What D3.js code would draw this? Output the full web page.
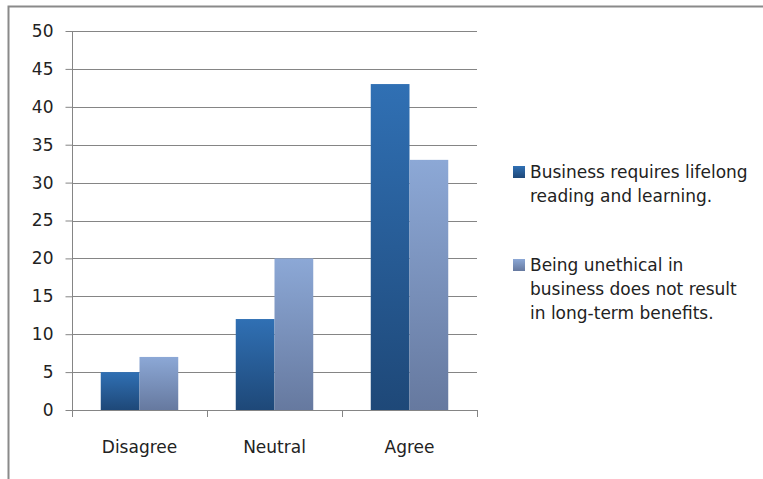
<!DOCTYPE html>
<html><head><meta charset="utf-8">
<script src="https://cdn.jsdelivr.net/npm/d3@7"></script>
<style>body{margin:0;background:#fff}svg{display:block}text{font-family:"DejaVu Sans",sans-serif;fill:#222}</style>
</head><body><svg id="c" width="763" height="479"></svg>
<script>
const categories = ["Disagree", "Neutral", "Agree"];
const seriesNames = ["Business requires lifelong reading and learning.", "Being unethical in business does not result in long-term benefits."];
const seriesA = [5, 12, 43];
const seriesB = [7, 20, 33];
const yTicks = [0, 5, 10, 15, 20, 25, 30, 35, 40, 45, 50];
const legendLines = [["Business requires lifelong", "reading and learning."], ["Being unethical in", "business does not result", "in long-term benefits."]];

const FONT = "'DejaVu Sans',sans-serif";
const svg = d3.select("#c");
const defs = svg.append("defs");
const grads = [["gA", "#3070b4", "#1e4878"], ["gB", "#8ca8d6", "#66799f"]];
grads.forEach(([id, top, bot]) => {
  const g = defs.append("linearGradient").attr("id", id).attr("x1", 0).attr("y1", 0).attr("x2", 0).attr("y2", 1);
  g.append("stop").attr("offset", 0).attr("stop-color", top);
  g.append("stop").attr("offset", 1).attr("stop-color", bot);
});

// frame
svg.append("path").attr("d", "M8.5,479 V6.5 H763").attr("fill", "none").attr("stroke", "#8a8a8a").attr("stroke-width", 2);

const x0 = 72, x1 = 477, yTop = 31, yBot = 410;
const y = d3.scaleLinear().domain([0, 50]).range([yBot, yTop]);
const x = d3.scaleBand().domain(categories).range([x0, x1]).paddingInner(0.426).paddingOuter(0.213);
const xs = d3.scaleBand().domain([0, 1]).range([0, x.bandwidth()]);

// gridlines
svg.append("g").selectAll("line").data(yTicks.filter(d => d > 0)).join("line")
  .attr("x1", x0).attr("x2", x1).attr("y1", d => Math.round(y(d)) + 0.5).attr("y2", d => Math.round(y(d)) + 0.5)
  .attr("stroke", "#858585").attr("stroke-width", 1);

// bars
categories.forEach((c, i) => {
  [seriesA, seriesB].forEach((s, j) => {
    svg.append("rect").attr("x", x(c) + xs(j)).attr("y", y(s[i])).attr("width", xs.bandwidth())
      .attr("height", y(0) - y(s[i])).attr("fill", `url(#${grads[j][0]})`);
  });
});

// y axis
const ya = svg.append("g").attr("transform", `translate(${x0 + 0.5},0)`).call(d3.axisLeft(y).tickValues(yTicks).tickSize(7).tickPadding(12));
ya.select(".domain").attr("stroke", "#858585").attr("d", `M0,${yTop}V${yBot}`);
ya.selectAll(".tick line").attr("stroke", "#858585");
ya.selectAll("text").attr("font-size", 17).style("font-family", FONT).attr("fill", "#222");

// x axis
const xa = svg.append("g").attr("transform", `translate(0,${Math.round(yBot) + 0.5})`)
  .call(d3.axisBottom(x).tickSize(0).tickPadding(30));
xa.select(".domain").attr("stroke", "#858585").attr("d", `M${x0},0H${x1}`);
xa.selectAll("text").attr("font-size", 17).style("font-family", FONT).attr("fill", "#222");
const sep = [x0, ...categories.map(c => x(c) + x.bandwidth() + x.step() * x.paddingInner() / 2)];
sep[sep.length - 1] = x1;
svg.append("g").selectAll("line").data(sep).join("line")
  .attr("x1", d => d + 0.5).attr("x2", d => d + 0.5).attr("y1", yBot).attr("y2", yBot + 7).attr("stroke", "#858585");

// legend
const lg = svg.append("g");
const legY = [172, 265];
legendLines.forEach((lines, i) => {
  lg.append("rect").attr("x", 513).attr("y", legY[i] - 6).attr("width", 12).attr("height", 12).attr("fill", `url(#${grads[i][0]})`);
  lines.forEach((t, k) => {
    lg.append("text").attr("x", 530).attr("y", legY[i] + k * 24).attr("dy", "0.35em").attr("font-size", 17).text(t);
  });
});
</script></body></html>
